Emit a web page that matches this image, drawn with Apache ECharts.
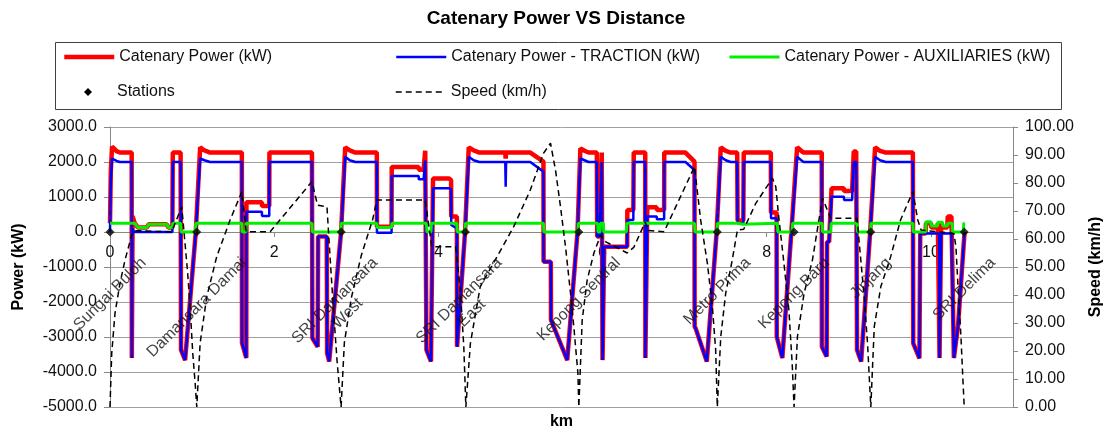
<!DOCTYPE html>
<html><head><meta charset="utf-8">
<script src="https://cdn.jsdelivr.net/npm/echarts@6/dist/echarts.min.js"></script>
<style>html,body{margin:0;padding:0;background:#fff}#c{width:1112px;height:433px}</style>
</head><body><div id="c"></div>
<script>
// ---------------- data (km, value) ----------------
const stationKm = [0, 1.057, 2.817, 4.33, 5.711, 7.398, 8.333, 9.268, 10.406];
const stationNames = ['Sungai Buloh', 'Damansara Damai', 'SRI Damansara\nWest', 'SRI Damansara\nEast',
  'Kepong Sentral', 'Metro Prima', 'Kepong Baru', 'Jinjang', 'SRI Delima'];

const catenaryPower = [
  [0,250],[0.01,1750],[0.025,2440],[0.08,2310],[0.12,2270],[0.264,2270],[0.266,-3600],[0.275,450],[0.30,250],[0.34,130],[0.45,130],[0.47,220],[0.69,220],[0.71,130],[0.76,130],
  [0.765,2270],[0.86,2270],[0.865,-3370],[0.915,-3660],[1.045,0],[1.098,2420],[1.15,2330],[1.22,2270],[1.606,2270],[1.608,-3170],[1.66,-3600],[1.662,850],[1.85,850],[1.852,740],[1.94,740],
  [1.942,2270],[2.46,2270],[2.465,-3030],[2.53,-3280],[2.535,-130],[2.64,-130],[2.645,-3460],[2.67,-3700],[2.815,0],[2.865,2420],[2.92,2330],[2.99,2270],[3.25,2270],[3.252,150],[3.43,150],
  [3.432,1860],[3.76,1860],[3.762,1780],[3.82,1780],[3.84,2320],[3.855,-3370],[3.91,-3700],[3.935,1530],[4.13,1530],[4.155,1480],[4.157,440],[4.225,440],[4.228,-3280],[4.325,0],[4.37,2420],
  [4.43,2330],[4.50,2270],[4.815,2270],[4.82,2100],[4.825,2270],[5.12,2270],[5.28,2010],[5.282,-850],[5.37,-850],[5.372,-2515],[5.57,-3660],[5.695,0],[5.73,2390],[5.78,2320],[5.83,2270],
  [5.93,2270],[5.935,-130],[5.96,-130],[5.99,2270],[6.0,-3660],[6.015,-3660],[6.02,-420],[6.30,-420],[6.302,630],[6.375,630],[6.38,2270],[6.52,2270],[6.522,-3600],[6.535,-3600],[6.545,705],
  [6.66,705],[6.662,630],[6.75,630],[6.752,2270],[7.01,2270],[7.12,2010],[7.122,-2700],[7.135,-2760],[7.27,-3700],[7.39,0],[7.44,2420],[7.50,2320],[7.56,2270],[7.64,2270],[7.645,330],
  [7.715,330],[7.72,2270],[8.05,2270],[8.052,560],[8.12,560],[8.122,-2990],[8.19,-3600],[8.30,0],[8.37,2420],[8.42,2320],[8.45,2270],[8.67,2270],[8.672,-3280],[8.73,-3560],[8.735,-280],
  [8.76,-280],[8.79,1250],[8.94,1250],[8.942,1170],[9.04,1170],[9.06,2300],[9.09,2300],[9.10,-3370],[9.15,-3700],[9.26,0],[9.32,2420],[9.38,2320],[9.45,2270],[9.78,2270],[9.785,-3180],
  [9.86,-3610],[9.87,-40],[9.935,-40],[9.94,250],[10.0,250],[10.005,130],[10.08,130],[10.085,250],[10.10,250],[10.105,-3600],[10.12,-3600],[10.125,250],[10.14,250],[10.145,130],[10.20,130],
  [10.205,440],[10.25,440],[10.28,-3600],[10.33,-2700],[10.41,0]
];

const tractionPower = [
  [0,0],[0.01,1500],[0.025,2100],[0.08,2030],[0.12,2000],[0.264,2000],[0.266,-3600],[0.272,100],[0.29,0],[0.76,0],
  [0.765,2000],[0.86,2000],[0.865,-3370],[0.915,-3660],[1.045,0],[1.098,2100],[1.15,2050],[1.22,2000],[1.606,2000],[1.608,-3170],[1.66,-3600],[1.662,580],[1.85,580],[1.852,457],[1.94,457],
  [1.942,2000],[2.46,2000],[2.465,-3030],[2.53,-3280],[2.535,-130],[2.64,-130],[2.645,-3460],[2.67,-3700],[2.815,0],[2.865,2150],[2.92,2050],[2.99,2000],[3.25,2000],[3.252,-20],[3.43,-20],
  [3.432,1600],[3.76,1600],[3.762,1505],[3.82,1505],[3.84,2050],[3.855,-3370],[3.91,-3700],[3.935,1250],[4.13,1250],[4.155,1220],[4.157,200],[4.225,100],[4.228,-3280],[4.325,0],[4.37,2150],
  [4.43,2050],[4.50,2000],[4.815,2000],[4.82,1295],[4.825,2000],[5.12,2000],[5.28,1725],[5.282,-850],[5.37,-850],[5.372,-2515],[5.57,-3660],[5.695,0],[5.73,2100],[5.78,2050],[5.83,2000],
  [5.93,2000],[5.935,-130],[5.96,-130],[5.99,2000],[6.0,-3660],[6.015,-3660],[6.02,-420],[6.30,-420],[6.302,343],[6.375,343],[6.38,2000],[6.52,2000],[6.522,-3600],[6.535,-3600],[6.545,440],
  [6.66,440],[6.662,362],[6.75,362],[6.752,2000],[7.01,2000],[7.12,1770],[7.122,-2700],[7.135,-2760],[7.27,-3700],[7.39,0],[7.44,2150],[7.50,2050],[7.56,2000],[7.64,2000],[7.645,250],
  [7.715,250],[7.72,2000],[8.05,2000],[8.052,390],[8.12,390],[8.122,-2990],[8.19,-3600],[8.30,0],[8.37,2150],[8.42,2050],[8.45,2000],[8.67,2000],[8.672,-3280],[8.73,-3560],[8.735,-280],
  [8.76,-280],[8.79,1010],[8.94,1010],[8.942,915],[9.04,915],[9.06,2000],[9.09,2000],[9.10,-3370],[9.15,-3700],[9.26,0],[9.32,2150],[9.38,2050],[9.45,2000],[9.78,2000],[9.785,-3180],
  [9.86,-3610],[9.87,-40],[10.10,-40],[10.105,-3600],[10.12,-3600],[10.125,-40],[10.25,-40],[10.28,-3600],[10.33,-2700],[10.41,0]
];

const auxPower = [
  [0,250],[0.30,250],[0.34,130],[0.45,130],[0.47,220],[0.69,220],[0.71,130],[0.76,130],[0.765,250],[0.86,250],[0.865,0],[1.04,0],[1.045,250],
  [1.606,250],[1.61,0],[1.655,0],[1.66,250],[2.46,250],[2.465,0],[2.812,0],[2.817,250],[3.25,250],[3.255,130],[3.43,130],[3.435,250],[3.855,250],[3.86,0],[3.91,0],[3.915,250],
  [4.225,250],[4.23,0],[4.325,0],[4.33,250],[5.28,250],[5.285,0],[5.70,0],[5.705,250],[5.94,250],[5.945,0],[5.97,0],[5.975,250],[6.01,250],[6.015,0],[6.29,0],[6.295,250],
  [7.12,250],[7.125,0],[7.395,0],[7.40,250],[7.645,250],[7.65,220],[7.71,220],[7.715,250],[8.13,250],[8.135,0],[8.31,0],[8.315,250],[8.675,250],[8.68,0],[8.78,0],[8.785,250],
  [9.10,250],[9.105,0],[9.265,0],[9.27,250],[9.78,250],[9.785,0],[9.935,0],[9.94,295],[10.0,295],[10.005,170],[10.08,170],[10.085,280],[10.14,280],[10.145,170],[10.20,170],
  [10.205,250],[10.26,250],[10.265,0],[10.395,0],[10.40,250],[10.41,250]
];

const speed = [
  [0,0],[0.021,19.2],[0.061,33.5],[0.122,44.2],[0.183,52.5],[0.265,61.4],[0.30,63],[0.75,62.5],[0.874,71.5],[0.894,71],[0.943,48.9],[0.976,35.8],[1.008,19.2],[1.037,8.6],[1.057,0],
  [1.098,22.9],[1.179,39.4],[1.30,53.7],[1.463,66.8],[1.606,76.9],[1.659,62.6],[1.951,62.6],[2.46,80.5],[2.528,72.1],[2.643,71.5],[2.683,52.5],[2.72,35.8],[2.765,16.8],[2.815,0],
  [2.855,23],[2.94,39],[3.06,54],[3.20,67],[3.25,73.9],[3.84,73.9],[3.92,57.2],[4.21,57.2],[4.23,52.5],[4.27,40.6],[4.31,21.5],[4.335,0],
  [4.39,22.7],[4.51,43],[4.716,53.7],[4.918,64.4],[5.12,77.5],[5.28,90.6],[5.366,94.2],[5.427,84.6],[5.488,71.5],[5.549,57.2],[5.61,40.6],[5.65,28.7],[5.70,12],[5.711,0],
  [5.752,31],[5.813,45.4],[5.894,54.9],[5.976,61.4],[6.04,59],[6.30,55],[6.38,57],[6.52,66],[6.56,63],[6.75,62.6],[7.12,85.8],[7.195,66.8],[7.277,51.3],[7.338,35.8],[7.378,20.4],[7.398,0],
  [7.44,25.1],[7.50,40.6],[7.58,52.5],[7.643,63.2],[7.72,63.5],[7.866,72.7],[8.07,81.7],[8.11,78.7],[8.15,66.8],[8.21,51.3],[8.27,34.6],[8.31,15.6],[8.333,0],
  [8.374,25.1],[8.455,40.6],[8.557,52.5],[8.62,64],[8.68,74.5],[8.78,67.4],[9.10,67.4],[9.146,52.5],[9.187,39.4],[9.228,22.7],[9.268,0],
  [9.31,28.7],[9.39,43],[9.51,53.7],[9.63,66.8],[9.78,76.9],[9.84,66.8],[9.88,63.2],[10.28,62],[10.305,57.2],[10.33,43],[10.366,25.1],[10.39,9.6],[10.406,0]
];

const xRange = [0, 11, 2];          // min, max, interval (km)
const powerRange = [-5000, 3000, 1000];
const speedRange = [0, 100, 10];

// ---------------- chart ----------------
const FONT = '"Liberation Sans", Arial, sans-serif';
const TXT = '#111';
const ctx = document.createElement('canvas').getContext('2d');
ctx.font = '16px ' + FONT;
function labelOffset(name) {
  const lines = name.split('\n');
  const L = Math.max.apply(null, lines.map(s => ctx.measureText(s).width));
  const H = lines.length * 18;
  const d = 22 + 0.354 * (L + H);
  const a = d * Math.SQRT1_2;
  return [-a, a];
}

const GRID = {left: 110, right: 99, top: 127, bottom: 26};
const PLOT_H = 433 - GRID.top - GRID.bottom;
// x axis drawn across the zero line of the power axis
const zeroFromBottom = PLOT_H * (0 - powerRange[0]) / (powerRange[1] - powerRange[0]);

const chart = echarts.init(document.getElementById('c'), null, {renderer: 'canvas'});
const legendBase = {
  padding: 0, itemWidth: 50, itemHeight: 14, itemGap: 0, selectedMode: false,
  itemStyle: {opacity: 0}, lineStyle: {width: 'inherit'},
  textStyle: {fontSize: 16, color: TXT, fontFamily: FONT}
};
chart.setOption({
  animation: false,
  backgroundColor: '#fff',
  textStyle: {fontFamily: FONT},
  title: {
    text: 'Catenary Power VS Distance', left: 'center', top: 4,
    textStyle: {fontSize: 19, fontWeight: 'bold', color: '#000', fontFamily: FONT}
  },
  graphic: [{
    type: 'rect', left: 53, top: 40, shape: {width: 1006, height: 67},
    style: {fill: 'none', stroke: '#404040', lineWidth: 1}, silent: true
  }],
  legend: [
    Object.assign({}, legendBase, {data: ['Catenary Power (kW)'], left: 62, top: 49}),
    Object.assign({}, legendBase, {data: ['Catenary Power - TRACTION (kW)'], left: 395, top: 49}),
    Object.assign({}, legendBase, {data: ['Catenary Power - AUXILIARIES (kW)'], left: 728, top: 49}),
    Object.assign({}, legendBase, {data: [{name: 'Stations', icon: 'diamond'}], left: 84, top: 84, itemWidth: 8, itemHeight: 8,
      itemStyle: {opacity: 1},
      textStyle: {fontSize: 16, color: TXT, fontFamily: FONT, padding: [0, 0, 0, 20]}}),
    Object.assign({}, legendBase, {data: ['Speed (km/h)'], left: 395, top: 84})
  ],
  grid: Object.assign({containLabel: false, outerBoundsMode: 'none'}, GRID),
  xAxis: {
    type: 'value', min: xRange[0], max: xRange[1], interval: xRange[2],
    offset: -zeroFromBottom,
    name: 'km', nameLocation: 'middle', nameGap: zeroFromBottom + 7,
    nameTextStyle: {fontSize: 16, fontWeight: 'bold', color: '#000'},
    axisLine: {show: true, onZero: false, lineStyle: {color: '#888', width: 1}},
    axisTick: {show: true, length: 5, lineStyle: {color: '#888'}},
    axisLabel: {fontSize: 16, color: TXT, margin: 13, showMaxLabel: false},
    splitLine: {show: false}
  },
  yAxis: [{
    type: 'value', min: powerRange[0], max: powerRange[1], interval: powerRange[2],
    name: 'Power (kW)', nameLocation: 'middle', nameGap: 83, nameRotate: 90,
    nameTextStyle: {fontSize: 16, fontWeight: 'bold', color: '#000'},
    axisLine: {show: true, lineStyle: {color: '#888'}},
    axisTick: {show: true, length: 6, lineStyle: {color: '#888'}},
    axisLabel: {fontSize: 16, color: TXT, margin: 13, formatter: v => v.toFixed(1)},
    splitLine: {show: true, lineStyle: {color: '#a0a0a0', width: 1}}
  }, {
    type: 'value', min: speedRange[0], max: speedRange[1], interval: speedRange[2], position: 'right',
    name: 'Speed (km/h)', nameLocation: 'middle', nameGap: 75, nameRotate: 90,
    nameTextStyle: {fontSize: 16, fontWeight: 'bold', color: '#000'},
    axisLine: {show: true, lineStyle: {color: '#888'}},
    axisTick: {show: true, length: 5, lineStyle: {color: '#888'}},
    axisLabel: {fontSize: 16, color: TXT, margin: 12, formatter: v => v.toFixed(2)},
    splitLine: {show: false}
  }],
  series: [{
    name: 'Catenary Power (kW)', type: 'line', data: catenaryPower, symbol: 'none', showSymbol: false,
    lineStyle: {color: '#ff0000', width: 4.5}, itemStyle: {color: '#ff0000'}, z: 2
  }, {
    name: 'Catenary Power - TRACTION (kW)', type: 'line', data: tractionPower, symbol: 'none', showSymbol: false,
    lineStyle: {color: '#0000ff', width: 2.5}, itemStyle: {color: '#0000ff'}, z: 3
  }, {
    name: 'Catenary Power - AUXILIARIES (kW)', type: 'line', data: auxPower, symbol: 'none', showSymbol: false,
    lineStyle: {color: '#00f000', width: 3}, itemStyle: {color: '#00f000'}, z: 4
  }, {
    name: 'Speed (km/h)', type: 'line', yAxisIndex: 1, data: speed, symbol: 'none', showSymbol: false,
    lineStyle: {color: '#000', width: 1.5, type: [6, 4]}, itemStyle: {color: '#000'}, z: 5
  }, {
    name: 'Stations', type: 'scatter', symbol: 'diamond', symbolSize: 9,
    itemStyle: {color: '#000'}, z: 6,
    data: stationKm.map((k, i) => ({
      value: [k, 0], name: stationNames[i],
      label: {offset: labelOffset(stationNames[i])}
    })),
    label: {
      show: true, position: 'inside', rotate: 45, align: 'center', verticalAlign: 'middle',
      fontSize: 16, color: TXT, lineHeight: 18, textBorderWidth: 0,
      formatter: p => p.name
    }
  }]
});
</script></body></html>
